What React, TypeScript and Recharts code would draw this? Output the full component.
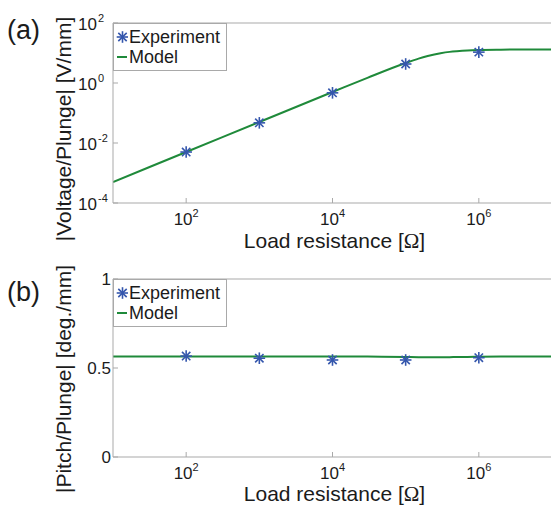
import React from 'react';
import { ComposedChart, Label, Legend, Line, Scatter, XAxis, YAxis } from 'recharts';

// values
const RESISTANCE_TICKS = [1e2, 1e4, 1e6];
const EXPERIMENT_R = [1e2, 1e3, 1e4, 1e5, 1e6];
const EXPERIMENT_VOLTAGE = [0.005, 0.047, 0.47, 4.3, 10.7];
const EXPERIMENT_PITCH = [0.567, 0.555, 0.545, 0.545, 0.558];
const MODEL_R = [1e1, 1e2, 1e3, 1e4, 3e4, 1e5, 1.5e5, 2e5, 3e5, 4e5, 5e5, 7e5, 1e6, 2e6, 3e6, 1e7];
const MODEL_VOLTAGE = [5e-4, 5e-3, 0.05, 0.5, 1.49, 4.65, 6.5, 7.9, 9.8, 10.9, 11.5, 12.2, 12.6, 12.9, 13, 13];
const MODEL_PITCH = [0.565, 0.565, 0.565, 0.565, 0.564, 0.562, 0.561, 0.561, 0.561, 0.561, 0.562, 0.562, 0.563, 0.564, 0.564, 0.564];
const VOLTAGE_TICKS = [1e-4, 1e-2, 1, 1e2];
const PITCH_TICKS = [0, 0.5, 1];

const FONT = '"Liberation Sans", Arial, Helvetica, sans-serif';
const INK = '#1b1b1b';
const FRAME = '#a9a9a9';
const BLUE = '#3557ad';
const GREEN = '#1f8a3a';

const toPoints = (xs: number[], ys: number[]) => xs.map((r, i) => ({ r, v: ys[i] }));

const Asterisk = ({ cx, cy }: any) => {
  const r = 5.8;
  const d = r * 0.72;
  return (
    <g stroke={BLUE} strokeWidth={1.6}>
      <line x1={cx - r} y1={cy} x2={cx + r} y2={cy} />
      <line x1={cx} y1={cy - r} x2={cx} y2={cy + r} />
      <line x1={cx - d} y1={cy - d} x2={cx + d} y2={cy + d} />
      <line x1={cx - d} y1={cy + d} x2={cx + d} y2={cy - d} />
    </g>
  );
};

const PowerTickX = ({ x, y, payload }: any) => {
  const exp = Math.round(Math.log10(payload.value));
  return (
    <text x={x} y={y + 12} textAnchor='middle' fontFamily={FONT} fontSize={17} fill={INK}>
      10
      <tspan dy={-8} fontSize={11}>
        {exp}
      </tspan>
    </text>
  );
};

const PowerTickY = ({ x, y, payload }: any) => {
  const exp = Math.round(Math.log10(payload.value));
  return (
    <g fontFamily={FONT} fill={INK}>
      <text x={x} y={y + 7} textAnchor='end' fontSize={17}>
        10
      </text>
      <text x={x + 1} y={y - 1} textAnchor='start' fontSize={11}>
        {exp}
      </text>
    </g>
  );
};

const PlainTickY = ({ x, y, payload }: any) => (
  <text x={x} y={y + 6} textAnchor='end' fontFamily={FONT} fontSize={17} fill={INK}>
    {payload.value}
  </text>
);

const LegendBox = ({ payload }: any) => (
  <div
    style={{
      border: `1px solid ${FRAME}`,
      background: '#fff',
      padding: '3px 6px 3px 2px',
      fontFamily: FONT,
      fontSize: 18,
      color: INK,
      lineHeight: '20px',
    }}
  >
    {(payload || []).map((entry: any) => (
      <div key={entry.value} style={{ display: 'flex', alignItems: 'center' }}>
        <svg width={12} height={20} style={{ marginRight: 1 }}>
          {entry.type === 'line' ? (
            <line x1={1} y1={10} x2={11} y2={10} stroke={GREEN} strokeWidth={2} />
          ) : (
            <Asterisk cx={6.5} cy={10} />
          )}
        </svg>
        <span>{entry.value}</span>
      </div>
    ))}
  </div>
);

interface PanelProps {
  tag: string;
  tagBaseline: number;
  yTitle: string;
  titleShift: number;
  xTitleOffset: number;
  experiment: number[];
  model: number[];
  yScale: 'log' | 'linear';
  yDomain: [number, number];
  yTicks: number[];
  height: number;
  marginTop: number;
  bottomHeight: number;
}

const Panel: React.FC<PanelProps> = ({
  tag,
  tagBaseline,
  yTitle,
  titleShift,
  xTitleOffset,
  experiment,
  model,
  yScale,
  yDomain,
  yTicks,
  height,
  marginTop,
  bottomHeight,
}) => {
  const isLog = yScale === 'log';
  return (
    <ComposedChart
      width={553}
      height={height}
      margin={{ top: marginTop, right: 0, bottom: 0, left: 0 }}
    >
      <XAxis
        dataKey='r'
        type='number'
        scale='log'
        domain={[10, 1e7]}
        ticks={RESISTANCE_TICKS}
        allowDataOverflow
        stroke={FRAME}
        tickSize={-5}
        tickMargin={15}
        tick={<PowerTickX />}
        height={bottomHeight}
      >
        <Label
          content={({ viewBox }: any) => (
            <text
              x={viewBox.x + viewBox.width / 2 + 2}
              y={viewBox.y + xTitleOffset}
              textAnchor='middle'
              fontFamily={FONT}
              fontSize={21}
              fill={INK}
            >
              Load resistance [<tspan fontFamily='"Liberation Serif", serif'>Ω</tspan>]
            </text>
          )}
        />
      </XAxis>
      <XAxis
        xAxisId='top'
        orientation='top'
        type='number'
        scale='log'
        domain={[10, 1e7]}
        ticks={RESISTANCE_TICKS}
        allowDataOverflow
        stroke={FRAME}
        tickSize={-5}
        tick={false}
        height={1}
      />
      <YAxis
        dataKey='v'
        type='number'
        scale={yScale}
        domain={yDomain}
        ticks={yTicks}
        allowDataOverflow
        stroke={FRAME}
        tickSize={-5}
        tickMargin={isLog ? 21 : 7}
        tick={isLog ? <PowerTickY /> : <PlainTickY />}
        width={113}
      >
        <Label
          content={({ viewBox }: any) => {
            const cx = viewBox.x + 71;
            const cy = viewBox.y + viewBox.height / 2 + titleShift;
            return (
              <g fontFamily={FONT} fill={INK}>
                <text x={7} y={tagBaseline} fontSize={27}>
                  {tag}
                </text>
                <text
                  x={cx}
                  y={cy}
                  transform={`rotate(-90 ${cx} ${cy})`}
                  textAnchor='middle'
                  fontSize={21}
                >
                  {yTitle}
                </text>
              </g>
            );
          }}
        />
      </YAxis>
      <YAxis
        yAxisId='right'
        orientation='right'
        type='number'
        scale={yScale}
        domain={yDomain}
        ticks={yTicks}
        allowDataOverflow
        stroke={FRAME}
        tickSize={-5}
        tick={false}
        width={1}
      />
      <Legend
        layout='vertical'
        verticalAlign='middle'
        align='center'
        wrapperStyle={{ top: marginTop + 1, left: 113, width: 'auto', height: 'auto' }}
        content={<LegendBox />}
      />
      <Scatter
        name='Experiment'
        data={toPoints(EXPERIMENT_R, experiment)}
        legendType='star'
        shape={<Asterisk />}
        isAnimationActive={false}
      />
      <Line
        name='Model'
        data={toPoints(MODEL_R, model)}
        dataKey='v'
        type='monotone'
        stroke={GREEN}
        strokeWidth={2}
        dot={false}
        activeDot={false}
        isAnimationActive={false}
      />
    </ComposedChart>
  );
};

export default function App() {
  return (
    <div
      style={{
        position: 'absolute',
        left: 0,
        top: 0,
        width: 551,
        height: 506,
        overflow: 'hidden',
        background: '#fff',
      }}
    >
      <Panel
        tag='(a)'
        tagBaseline={39}
        yTitle='|Voltage/Plunge| [V/mm]'
        titleShift={16}
        xTitleOffset={45}
        experiment={EXPERIMENT_VOLTAGE}
        model={MODEL_VOLTAGE}
        yScale='log'
        yDomain={[1e-4, 1e2]}
        yTicks={VOLTAGE_TICKS}
        height={253}
        marginTop={22}
        bottomHeight={50}
      />
      <Panel
        tag='(b)'
        tagBaseline={48}
        yTitle='|Pitch/Plunge| [deg./mm]'
        titleShift={11}
        xTitleOffset={44}
        experiment={EXPERIMENT_PITCH}
        model={MODEL_PITCH}
        yScale='linear'
        yDomain={[0, 1]}
        yTicks={PITCH_TICKS}
        height={253}
        marginTop={25}
        bottomHeight={49}
      />
    </div>
  );
}
